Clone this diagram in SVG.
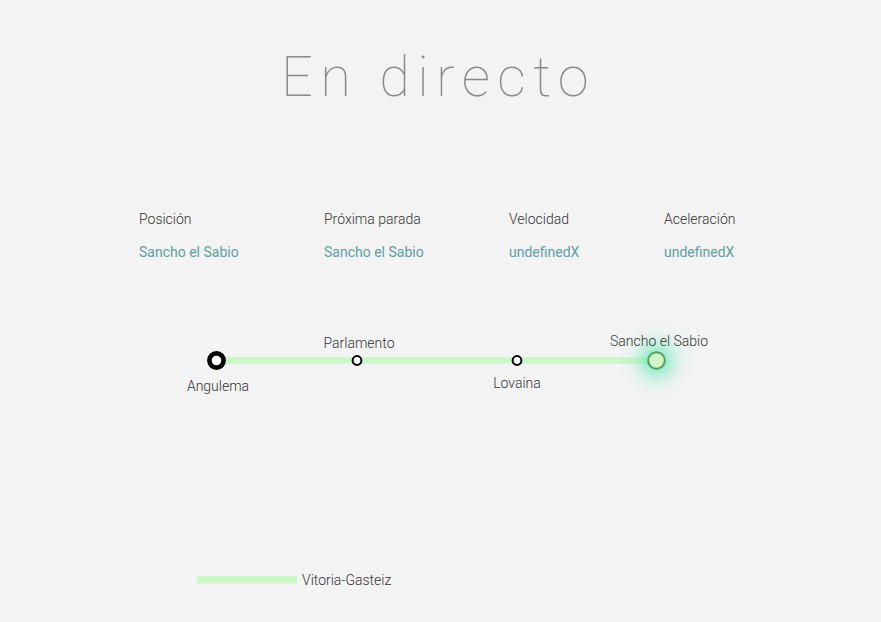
<svg xmlns="http://www.w3.org/2000/svg" width="881" height="622" viewBox="0 0 881 622">
<defs>
<style>
.t{font-family:Roboto,"Liberation Sans",sans-serif;font-size:14px;font-weight:300;fill:#333;}
.v{font-family:Roboto,"Liberation Sans",sans-serif;font-size:14px;font-weight:400;fill:#5e9fa0;}
.stop{fill:#fff;stroke:#000;}
.title{font-family:Roboto,"Liberation Sans",sans-serif;font-size:56px;font-weight:100;fill:#8a8a8a;letter-spacing:7.4px;}
</style>
<radialGradient id="glow">
<stop offset="0" stop-color="#3de3a0" stop-opacity="0.8"/>
<stop offset="0.4" stop-color="#6de8bd" stop-opacity="0.35"/>
<stop offset="0.7" stop-color="#b5efd9" stop-opacity="0.12"/>
<stop offset="1" stop-color="#e0f5ec" stop-opacity="0"/>
</radialGradient>
</defs>
<rect width="881" height="622" fill="#f3f3f3"/>
<text class="title" x="281" y="96">En directo</text>
<g id="info">
<text class="t" x="139" y="224">Posición</text>
<text class="v" x="139" y="257">Sancho el Sabio</text>
<text class="t" x="324" y="224">Próxima parada</text>
<text class="v" x="324" y="257">Sancho el Sabio</text>
<text class="t" x="509" y="224">Velocidad</text>
<text class="v" x="509" y="257">undefinedX</text>
<text class="t" x="664" y="224">Aceleración</text>
<text class="v" x="664" y="257">undefinedX</text>
</g>
<g id="connectors">
<line x1="216" y1="360.5" x2="656" y2="360.5" stroke="#ccf7c6" stroke-width="7"/>
</g>
<g id="angulema">
<circle class="stop" cx="216.5" cy="360.5" r="7.1" stroke-width="4.6"/>
<text class="t" x="218" y="391" text-anchor="middle">Angulema</text>
</g>
<g id="parlamento">
<circle class="stop" cx="357" cy="360.5" r="4.4" stroke-width="2"/>
<text class="t" x="359" y="348" text-anchor="middle">Parlamento</text>
</g>
<g id="lovaina">
<circle class="stop" cx="517" cy="360.5" r="4.4" stroke-width="2"/>
<text class="t" x="517" y="388" text-anchor="middle">Lovaina</text>
</g>
<g id="sancho">
<circle cx="656.5" cy="360.5" r="42" fill="url(#glow)"/>
<circle cx="656.5" cy="360.5" r="8.3" fill="#d0f6c6" stroke="#55a060" stroke-width="2"/>
<text class="t" x="659" y="346" text-anchor="middle">Sancho el Sabio</text>
</g>
<g id="legend">
<rect x="197" y="576" width="100" height="7.5" fill="#ccf7c6"/>
<text class="t" x="302" y="585">Vitoria-Gasteiz</text>
</g>
</svg>
